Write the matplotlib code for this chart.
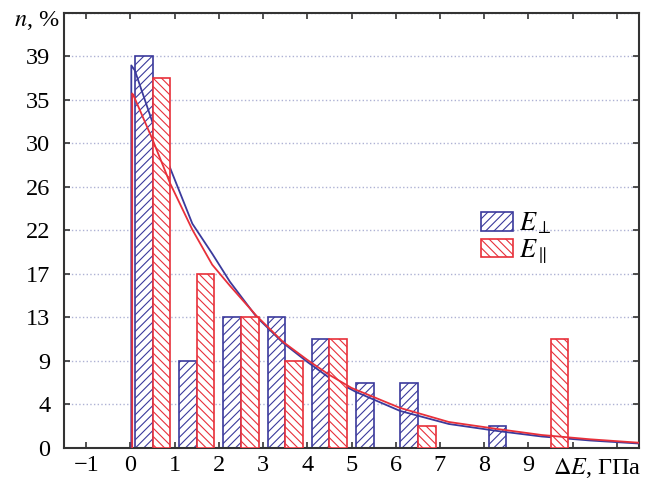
import numpy as np
import matplotlib
matplotlib.use("Agg")
import matplotlib.pyplot as plt
from matplotlib.patches import Patch

plt.rcParams['font.family'] = ['Liberation Serif', 'DejaVu Serif']
plt.rcParams['mathtext.fontset'] = 'stix'
plt.rcParams['hatch.linewidth'] = 0.8

blueColor = '#3b3a9c'
redColor = '#e8303a'

# histogram bins (start of each 1 GPa bin) and share of samples, %
bins = [0, 1, 2, 3, 4, 5, 6, 7, 8, 9]
perpVals = [39.13, 8.70, 13.04, 13.04, 10.87, 6.52, 6.52, 0, 2.17, 0]
parVals = [36.96, 17.39, 13.04, 8.70, 10.87, 0, 2.17, 0, 0, 10.87]

# fitted curves
perpCurveX = [0.02, 0.02, 0.1, 0.5, 0.93, 1.4, 1.85, 2.25, 2.85, 3.45, 4.0, 4.5, 5.1, 6.1, 7.2, 8.3, 9.3, 10.4, 11.5]
perpCurveY = [0, 38.2, 37.7, 32.5, 27.6, 22.4, 19.4, 16.6, 13.1, 10.5, 8.6, 7.0, 5.6, 3.7, 2.4, 1.7, 1.15, 0.75, 0.45]
parCurveX = [0.04, 0.04, 0.07, 0.5, 0.9, 1.4, 1.85, 2.25, 2.85, 3.45, 4.0, 4.5, 5.0, 6.1, 7.2, 8.3, 9.3, 10.4, 11.5]
parCurveY = [0, 35.4, 35.2, 30.8, 26.4, 21.8, 18.3, 16.2, 13.2, 10.6, 8.8, 7.3, 6.0, 4.0, 2.6, 1.9, 1.3, 0.87, 0.53]

yTickVals = [k * 100 / 23 for k in range(10)]
yTickLabels = ['0', '4', '9', '13', '17', '22', '26', '30', '35', '39']
xTickLabels = ['\u22121', '0', '1', '2', '3', '4', '5', '6', '7', '8', '9']

fig = plt.figure(figsize=(6.54, 4.82), dpi=100)
ax = fig.add_axes([0.098, 0.0705, 0.879, 0.9035])

bins = np.array(bins)
perpVals = np.array(perpVals)
parVals = np.array(parVals)

m = perpVals > 0
ax.bar(bins[m] + 0.3, perpVals[m], width=0.4, facecolor='white', edgecolor=blueColor,
       hatch='////', linewidth=1.2, zorder=2)
ax.plot(perpCurveX, perpCurveY, color=blueColor, linewidth=1.3, zorder=3)
m = parVals > 0
ax.bar(bins[m] + 0.7, parVals[m], width=0.4, facecolor='white', edgecolor=redColor,
       hatch='\\\\\\\\', linewidth=1.2, zorder=4)
ax.plot(parCurveX, parCurveY, color=redColor, linewidth=1.3, zorder=5)

ax.set_xlim(-1.5, 11.5)
ax.set_ylim(0, 100 * 20 / 46)

ax.set_xticks(range(-1, 12))
ax.set_xticklabels(xTickLabels + ['', ''])
ax.set_yticks(yTickVals + [100 * 20 / 46])
ax.set_yticklabels(yTickLabels + [''])
ax.tick_params(direction='in', top=True, right=True, length=4, width=1.2,
               labelsize=17.5, color='#333333')
ax.tick_params(axis='x', pad=5)
ax.tick_params(axis='y', pad=10)

ax.grid(axis='y', linestyle=':', color='#aeb2d4', linewidth=1.0, zorder=0)
ax.set_axisbelow(True)
for s in ax.spines.values():
    s.set_color('#333333')
    s.set_linewidth(1.5)

fig.text(0.022, 0.982, r'$n$, %', fontsize=17.5, ha='left', va='top')
ax.text(10.55, -0.8, r'$\Delta E$, ГПа', fontsize=17.5, ha='center', va='top')

handles = [Patch(facecolor='white', edgecolor=blueColor, hatch='////', linewidth=1.2),
           Patch(facecolor='white', edgecolor=redColor, hatch='\\\\\\\\', linewidth=1.2)]
ax.legend(handles, [r'$E_{\perp}$', r'$E_{\parallel}$'], loc='upper left',
          bbox_to_anchor=(0.725, 0.545), frameon=False, fontsize=19,
          handlelength=1.2, handleheight=0.7, handletextpad=0.25,
          labelspacing=0.05, borderpad=0, borderaxespad=0)

fig.savefig('out.png', dpi=100)
